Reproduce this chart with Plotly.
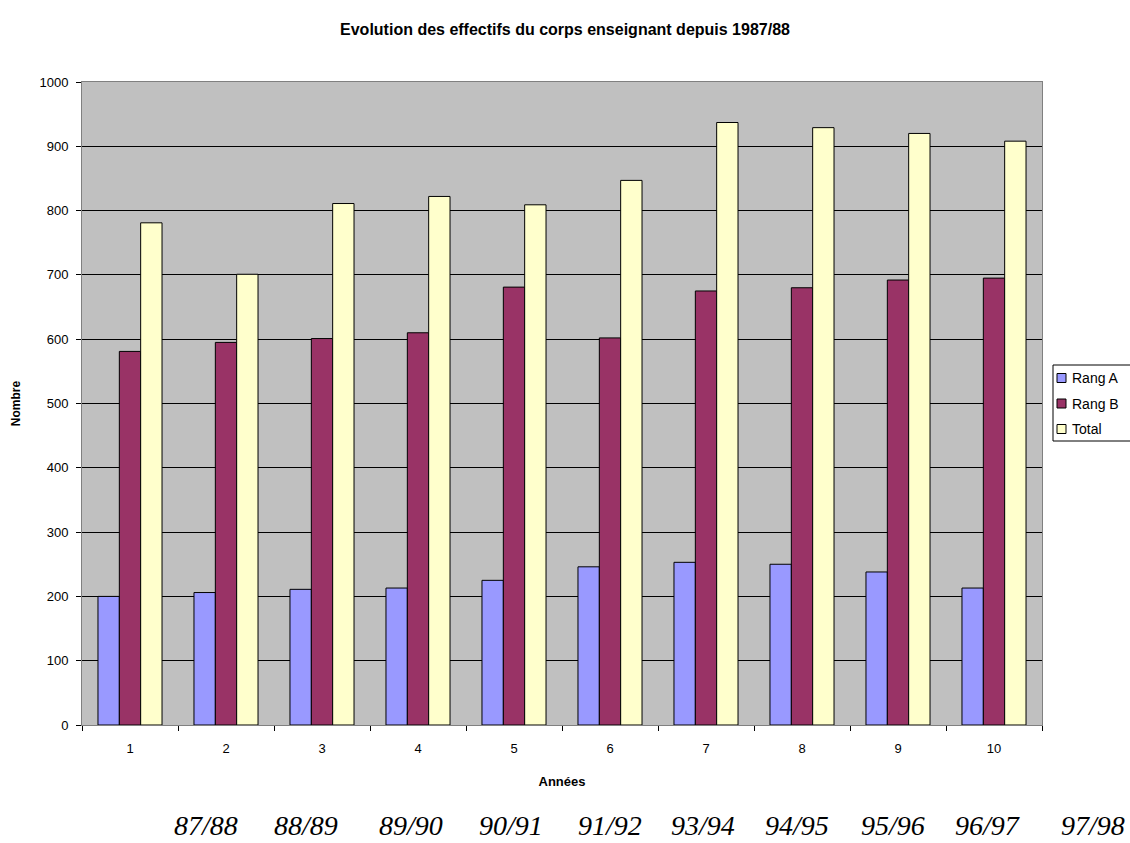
import plotly.graph_objects as go

categories = ["1", "2", "3", "4", "5", "6", "7", "8", "9", "10"]
rang_a = [200, 206, 211, 213, 225, 246, 253, 250, 238, 213]
rang_b = [581, 595, 601, 610, 681, 602, 675, 680, 692, 695]
total = [781, 701, 811, 822, 809, 847, 937, 929, 920, 908]
series_names = ["Rang A", "Rang B", "Total"]
series_colors = ["#9999FF", "#993366", "#FFFFCC"]
year_labels = ["87/88", "88/89", "89/90", "90/91", "91/92", "93/94", "94/95", "95/96", "96/97", "97/98"]
year_label_x = [206, 306, 411, 511, 610, 703, 797, 893, 987, 1093]

W, H = 1130, 843
ML, MR, MT, MB = 82, 88, 82, 118
PW, PH = W - ML - MR, H - MT - MB


def px_x(px):
    return (px - ML) / PW


def px_y(py):
    return (H - MB - py) / PH


fig = go.Figure()
for name, vals, col in zip(series_names, [rang_a, rang_b, total], series_colors):
    fig.add_trace(go.Bar(x=categories, y=vals, name=name, showlegend=False,
                         marker=dict(color=col, line=dict(color="black", width=1))))

annotations = []
for lab, px in zip(year_labels, year_label_x):
    annotations.append(dict(text=lab, xref="paper", yref="paper",
                            x=px_x(px), y=px_y(825),
                            showarrow=False, xanchor="center", yanchor="middle",
                            font=dict(family="Liberation Serif", size=28, color="black", style="italic")))

# hand-drawn legend box (Excel style)
shapes = [dict(type="rect", xref="paper", yref="paper",
               x0=px_x(1053), x1=px_x(1140), y0=px_y(441), y1=px_y(365),
               fillcolor="white", line=dict(color="black", width=1), layer="above")]
for i, (name, col) in enumerate(zip(series_names, series_colors)):
    cy = 378 + i * 25.5
    shapes.append(dict(type="rect", xref="paper", yref="paper",
                       x0=px_x(1057), x1=px_x(1066), y0=px_y(cy + 4.5), y1=px_y(cy - 4.5),
                       fillcolor=col, line=dict(color="black", width=1), layer="above"))
    annotations.append(dict(text=name, xref="paper", yref="paper", x=px_x(1070), y=px_y(cy),
                            xanchor="left", yanchor="middle", showarrow=False,
                            font=dict(size=14, color="black")))

fig.update_layout(
    width=W, height=H, autosize=False,
    margin=dict(l=ML, r=MR, t=MT, b=MB),
    paper_bgcolor="white", plot_bgcolor="#C0C0C0",
    font=dict(family="Liberation Sans", size=12, color="black"),
    title=dict(text="<b>Evolution des effectifs du corps enseignant depuis 1987/88</b>",
               x=0.5, xanchor="center", y=1 - 29 / H, yanchor="middle",
               font=dict(size=16)),
    barmode="group", bargap=0.333, bargroupgap=0,
    showlegend=False,
    xaxis=dict(title=dict(text="<b>Années</b>", font=dict(size=13), standoff=22),
               showline=True, linecolor="#808080", mirror=True, linewidth=1,
               ticks="outside", tickson="boundaries", ticklen=5, tickcolor="black",
               ticklabelstandoff=11,
               tickfont=dict(size=13), showgrid=False),
    yaxis=dict(title=dict(text="<b>Nombre</b>", font=dict(size=12), standoff=16),
               range=[0, 1000], dtick=100, showgrid=True, gridcolor="black", gridwidth=1,
               showline=True, linecolor="#808080", mirror=True, linewidth=1,
               ticks="outside", ticklen=5, tickcolor="black", tickfont=dict(size=13),
               ticklabelstandoff=5, zeroline=False),
    annotations=annotations,
    shapes=shapes,
)

post = ("document.body.style.margin='0';document.body.style.padding='0';"
        "document.body.style.overflow='hidden';"
        "var gd=document.getElementById('{plot_id}');"
        "Plotly.relayout(gd,{width:1130,height:843});")
fig.write_html("out.html", config={"responsive": False, "displayModeBar": False}, post_script=post)
